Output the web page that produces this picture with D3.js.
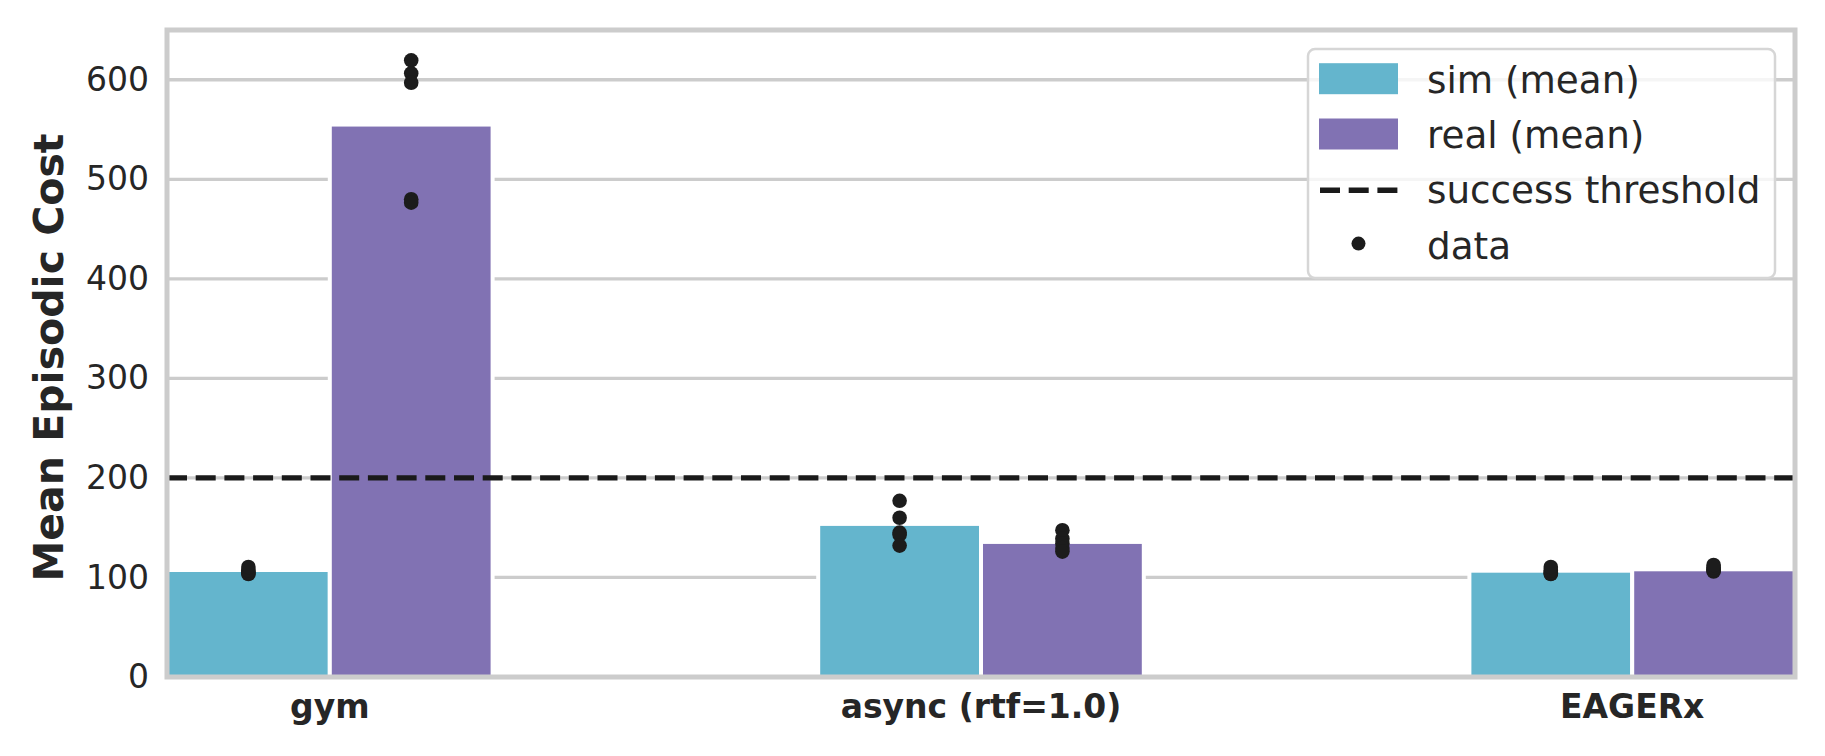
<!DOCTYPE html>
<html>
<head>
<meta charset="utf-8">
<script src="https://cdn.jsdelivr.net/npm/d3@7"></script>
<style>
  html, body { margin: 0; padding: 0; background: #ffffff; }
  svg { display: block; font-family: "DejaVu Sans", sans-serif; }
</style>
</head>
<body>
<svg id="chart" width="1825" height="756"></svg>
<script>
// ---- data ----
const categories = ["gym", "async (rtf=1.0)", "EAGERx"];
const series = ["sim", "real"];
const simMean = [107.5, 153.8, 106.8];
const realMean = [555, 135.7, 108.2];
const simData = [
  [103.5, 104.5, 105.5, 107, 110.5],
  [177, 160, 145, 143, 132],
  [103.5, 104, 105, 107, 110.5]
];
const realData = [
  [619.5, 606.5, 597, 480, 476.5],
  [147.5, 139, 134, 129.5, 126],
  [106, 107, 108, 110, 112.5]
];
const threshold = 200;
const yTicks = [0, 100, 200, 300, 400, 500, 600];
const yLabel = "Mean Episodic Cost";
const legendLabels = ["sim (mean)", "real (mean)", "success threshold", "data"];
const colors = { sim: "#64B5CD", real: "#8172B3" };

// ---- layout ----
const svg = d3.select("#chart");
const L = 167, R = 1795, T = 30, B = 677;
const textColor = "#262626";
const gridColor = "#cccccc";

const x = d3.scaleBand().domain(categories).range([L, R]).paddingInner(0.5).paddingOuter(0);
const xs = d3.scaleBand().domain(series).range([0, x.bandwidth()]);
const y = d3.scaleLinear().domain([0, 650]).range([B, T]);

const means = { sim: simMean, real: realMean };
const pts = { sim: simData, real: realData };

// grid lines
svg.append("g").selectAll("line").data(yTicks).join("line")
  .attr("x1", L).attr("x2", R)
  .attr("y1", d => y(d)).attr("y2", d => y(d))
  .attr("stroke", gridColor).attr("stroke-width", 3.3);

// bars
const barData = [];
categories.forEach((c, i) => series.forEach(s => barData.push({ c, s, v: means[s][i] })));
svg.append("g").selectAll("rect").data(barData).join("rect")
  .attr("x", d => x(d.c) + xs(d.s))
  .attr("width", xs.bandwidth())
  .attr("y", d => y(d.v))
  .attr("height", d => y(0) - y(d.v))
  .attr("fill", d => colors[d.s])
  .attr("stroke", "#ffffff").attr("stroke-width", 4);

// threshold line
svg.append("line")
  .attr("x1", L).attr("x2", R)
  .attr("y1", y(threshold)).attr("y2", y(threshold))
  .attr("stroke", "#1a1a1a").attr("stroke-width", 5.4)
  .attr("stroke-dasharray", "20,8.7");

// data points
const dotData = [];
categories.forEach((c, i) => series.forEach(s => pts[s][i].forEach(v => dotData.push({ c, s, v }))));
svg.append("g").selectAll("circle").data(dotData).join("circle")
  .attr("cx", d => x(d.c) + xs(d.s) + xs.bandwidth() / 2)
  .attr("cy", d => y(d.v))
  .attr("r", 7.3)
  .attr("fill", "#1c1c1c");

// spines
svg.append("rect")
  .attr("x", L).attr("y", T).attr("width", R - L).attr("height", B - T)
  .attr("fill", "none").attr("stroke", gridColor).attr("stroke-width", 5);

// y axis labels
const yAxis = svg.append("g").attr("transform", `translate(${L},0)`)
  .call(d3.axisLeft(y).tickValues(yTicks).tickSize(0).tickPadding(18).tickFormat(d3.format("d")));
yAxis.select(".domain").remove();
yAxis.selectAll("text").attr("font-size", 33).attr("fill", textColor)
  .attr("font-family", "DejaVu Sans");

// x axis labels
const xAxis = svg.append("g").attr("transform", `translate(0,${B})`)
  .call(d3.axisBottom(x).tickSize(0).tickPadding(18));
xAxis.select(".domain").remove();
xAxis.selectAll("text").attr("font-size", 33).attr("font-weight", "bold")
  .attr("fill", textColor).attr("font-family", "DejaVu Sans");

// y label
svg.append("text")
  .attr("transform", `translate(63,${(T + B) / 2 + 4}) rotate(-90)`)
  .attr("text-anchor", "middle")
  .attr("font-size", 41).attr("font-weight", "bold")
  .attr("fill", textColor)
  .text(yLabel);

// legend
const lg = svg.append("g");
lg.append("rect")
  .attr("x", 1308).attr("y", 49).attr("width", 467).attr("height", 229)
  .attr("rx", 7).attr("ry", 7)
  .attr("fill", "#ffffff").attr("fill-opacity", 0.8)
  .attr("stroke", "#d6d6d6").attr("stroke-width", 2.5);
const rowY = i => 78.7 + 55.3 * i;
const handleX = 1319, handleW = 79, textX = 1427;
const items = lg.selectAll("g.item").data(legendLabels).join("g").attr("class", "item");
items.each(function (d, i) {
  const g = d3.select(this);
  const cy = rowY(i);
  if (i < 2) {
    g.append("rect").attr("x", handleX).attr("y", cy - 15.5)
      .attr("width", handleW).attr("height", 31)
      .attr("fill", colors[series[i]]);
  } else if (i === 2) {
    g.append("line").attr("x1", handleX + 1).attr("x2", handleX + handleW)
      .attr("y1", cy + 1).attr("y2", cy + 1)
      .attr("stroke", "#1a1a1a").attr("stroke-width", 5.4)
      .attr("stroke-dasharray", "20,8.7");
  } else {
    g.append("circle").attr("cx", handleX + handleW / 2).attr("cy", cy - 1)
      .attr("r", 7).attr("fill", "#1c1c1c");
  }
  g.append("text").attr("x", textX).attr("y", cy + 14)
    .attr("font-size", 37.3).attr("fill", textColor)
    .text(d);
});
</script>
</body>
</html>
